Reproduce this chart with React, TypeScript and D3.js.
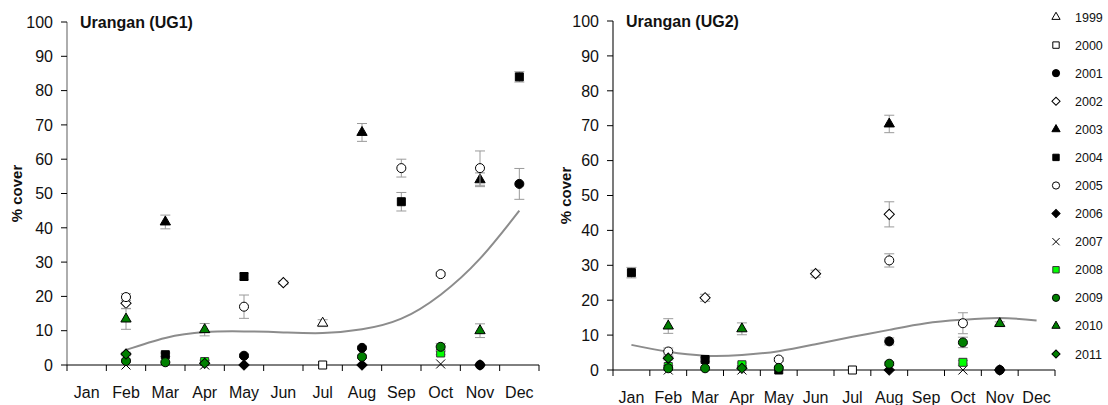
import React from "react";
import * as d3 from "d3";

const months = ["Jan", "Feb", "Mar", "Apr", "May", "Jun", "Jul", "Aug", "Sep", "Oct", "Nov", "Dec"];
const yTicks = [0, 10, 20, 30, 40, 50, 60, 70, 80, 90, 100];
const years = ["1999", "2000", "2001", "2002", "2003", "2004", "2005", "2006", "2007", "2008", "2009", "2010", "2011"];

type Pt = [string, number, number];

// Urangan (UG1): [month, % cover, error]
const ug1_1999: Pt[] = [["Jul", 12.2, 1]];
const ug1_2000: Pt[] = [["Jul", 0, 0]];
const ug1_2001: Pt[] = [["May", 2.7, 0.5], ["Aug", 5, 0.5], ["Nov", 0, 0], ["Dec", 52.8, 4.5]];
const ug1_2002: Pt[] = [["Feb", 18, 1.5], ["Jun", 24, 0.5]];
const ug1_2003: Pt[] = [["Mar", 41.7, 2], ["Aug", 67.8, 2.6], ["Nov", 54, 2]];
const ug1_2004: Pt[] = [["Mar", 3, 0.5], ["May", 25.8, 1], ["Sep", 47.6, 2.7], ["Dec", 84, 1.5]];
const ug1_2005: Pt[] = [["Feb", 19.8, 1], ["May", 17, 3.4], ["Sep", 57.4, 2.6], ["Oct", 26.5, 0.5], ["Nov", 57.4, 5]];
const ug1_2006: Pt[] = [["May", 0, 0], ["Aug", 0, 0], ["Nov", 0, 0]];
const ug1_2007: Pt[] = [["Feb", 0, 0], ["Apr", 0, 0], ["Oct", 0.3, 0]];
const ug1_2008: Pt[] = [["Apr", 1, 0.5], ["Oct", 3.5, 0.5]];
const ug1_2009: Pt[] = [["Feb", 1.2, 0.5], ["Mar", 0.8, 0], ["Aug", 2.4, 0.5], ["Oct", 5.3, 1]];
const ug1_2010: Pt[] = [["Feb", 13.4, 3], ["Apr", 10.3, 1.8], ["Nov", 10, 2]];
const ug1_2011: Pt[] = [["Feb", 3.2, 0.5], ["Apr", 0.5, 0]];

// Urangan (UG2)
const ug2_1999: Pt[] = [];
const ug2_2000: Pt[] = [["Jul", 0, 0]];
const ug2_2001: Pt[] = [["Aug", 8.2, 1], ["Nov", 0, 0]];
const ug2_2002: Pt[] = [["Mar", 20.7, 1], ["Jun", 27.6, 1], ["Aug", 44.6, 3.6]];
const ug2_2003: Pt[] = [["Aug", 70.5, 2.5]];
const ug2_2004: Pt[] = [["Jan", 27.9, 1.5], ["Mar", 3, 0.5], ["May", 0, 0]];
const ug2_2005: Pt[] = [["Feb", 5.3, 1], ["May", 3, 0.5], ["Aug", 31.4, 1.9], ["Oct", 13.4, 3]];
const ug2_2006: Pt[] = [["Aug", 0, 0], ["Nov", 0, 0]];
const ug2_2007: Pt[] = [["Feb", 0, 0], ["Apr", 0, 0], ["Oct", 0, 0]];
const ug2_2008: Pt[] = [["Feb", 1, 0], ["Apr", 1.5, 0.5], ["Oct", 2.2, 0.5]];
const ug2_2009: Pt[] = [["Feb", 0.5, 0], ["Mar", 0.5, 0], ["May", 0.6, 0], ["Aug", 1.8, 0.5], ["Oct", 7.9, 1.5]];
const ug2_2010: Pt[] = [["Feb", 12.6, 2.1], ["Apr", 11.8, 1.7], ["Nov", 13.3, 0.5]];
const ug2_2011: Pt[] = [["Feb", 3.4, 0.5], ["Apr", 0.5, 0]];

const ug1Series = [ug1_1999, ug1_2000, ug1_2001, ug1_2002, ug1_2003, ug1_2004, ug1_2005, ug1_2006, ug1_2007, ug1_2008, ug1_2009, ug1_2010, ug1_2011];
const ug2Series = [ug2_1999, ug2_2000, ug2_2001, ug2_2002, ug2_2003, ug2_2004, ug2_2005, ug2_2006, ug2_2007, ug2_2008, ug2_2009, ug2_2010, ug2_2011];

// Polynomial trend lines
const ug1TrendMonths = ["Feb", "Mar", "Apr", "May", "Jun", "Jul", "Aug", "Sep", "Oct", "Nov", "Dec"];
const ug1TrendValues = [4.4, 7.9, 9.6, 9.8, 9.5, 9.3, 10.4, 13.5, 20.5, 31, 45];
const ug2TrendMonths = months;
const ug2TrendValues = [7.2, 5.2, 4.1, 4.3, 5.4, 7.4, 9.5, 11.5, 13.4, 14.4, 14.9, 14.2];

type Style = { shape: string; fill: string; stroke: string };
const yearStyles: Style[] = [
  { shape: "triangle", fill: "#fff", stroke: "#000" },
  { shape: "square", fill: "#fff", stroke: "#000" },
  { shape: "circle", fill: "#000", stroke: "#000" },
  { shape: "diamond", fill: "#fff", stroke: "#000" },
  { shape: "triangle", fill: "#000", stroke: "#000" },
  { shape: "square", fill: "#000", stroke: "#000" },
  { shape: "circle", fill: "#fff", stroke: "#000" },
  { shape: "diamond", fill: "#000", stroke: "#000" },
  { shape: "x", fill: "none", stroke: "#000" },
  { shape: "square", fill: "#00ff00", stroke: "#333" },
  { shape: "circle", fill: "#008000", stroke: "#000" },
  { shape: "triangle", fill: "#008000", stroke: "#000" },
  { shape: "diamond", fill: "#008000", stroke: "#000" },
];

const FONT = "'Liberation Sans', Arial, sans-serif";

function Marker({ x, y, st, scale = 1 }: { x: number; y: number; st: Style; scale?: number }) {
  const s = scale;
  if (st.shape === "x") {
    const h = 4.5 * s;
    return (
      <path d={`M${-h},${-h}L${h},${h}M${-h},${h}L${h},${-h}`} transform={`translate(${x},${y})`} stroke={st.stroke} strokeWidth={1} fill="none" />
    );
  }
  let d = "";
  let rot = 0;
  if (st.shape === "circle") d = d3.symbol().type(d3.symbolCircle).size(64 * s * s)() as string;
  else if (st.shape === "square") d = d3.symbol().type(d3.symbolSquare).size(64 * s * s)() as string;
  else if (st.shape === "triangle") d = d3.symbol().type(d3.symbolTriangle).size(46 * s * s)() as string;
  else if (st.shape === "diamond") {
    d = d3.symbol().type(d3.symbolSquare).size(52 * s * s)() as string;
    rot = 45;
  }
  return <path d={d} transform={`translate(${x},${y}) rotate(${rot})`} fill={st.fill} stroke={st.stroke} strokeWidth={1} />;
}

type PanelProps = {
  x0: number; x1: number; yTop: number; yBot: number; title: string;
  series: Pt[][]; trendMonths: string[]; trendValues: number[];
  axisColor: string; labelX: number;
};

function Panel(p: PanelProps) {
  const x = d3.scaleBand<string>().domain(months).range([p.x0, p.x1]);
  const y = d3.scaleLinear().domain([0, 100]).range([p.yBot, p.yTop]);
  const cx = (m: string) => (x(m) as number) + x.bandwidth() / 2;
  const line = d3
    .line<number>()
    .x((_, i) => cx(p.trendMonths[i]))
    .y((v) => y(v))
    .curve(d3.curveNatural);
  const boundaries = [...months.map((m) => x(m) as number), p.x1];
  return (
    <g>
      {/* y axis */}
      <line x1={p.x0} x2={p.x0} y1={y(100)} y2={y(0)} stroke={p.axisColor} strokeWidth={1.2} />
      {yTicks.map((t) => (
        <g key={t}>
          <line x1={p.x0 - 6} x2={p.x0} y1={y(t)} y2={y(t)} stroke="#000" strokeWidth={1} />
          <text x={p.x0 - 14} y={y(t)} dy="0.36em" textAnchor="end" fontSize={16} fontFamily={FONT} fill="#111">
            {t}
          </text>
        </g>
      ))}
      {/* x axis */}
      <line x1={p.x0} x2={p.x1} y1={y(0)} y2={y(0)} stroke="#000" strokeWidth={1} />
      {boundaries.map((b, i) => (
        <line key={i} x1={b} x2={b} y1={y(0)} y2={y(0) + 6} stroke="#000" strokeWidth={1} />
      ))}
      {months.map((m) => (
        <text key={m} x={cx(m)} y={y(0) + 33} textAnchor="middle" fontSize={16} fontFamily={FONT} fill="#111">
          {m}
        </text>
      ))}
      <text x={p.x0 + 13} y={y(100) + 6} fontSize={16} fontWeight="bold" fontFamily={FONT} fill="#111">
        {p.title}
      </text>
      <text
        transform={`translate(${p.labelX},${(y(0) + y(100)) / 2}) rotate(-90)`}
        textAnchor="middle"
        fontSize={15}
        fontWeight="bold"
        fontFamily={FONT}
        fill="#111"
      >
        % cover
      </text>
      {/* trend */}
      <path d={line(p.trendValues) as string} fill="none" stroke="#8c8c8c" strokeWidth={2} />
      {/* series */}
      {p.series.map((ser, si) => (
        <g key={si}>
          {ser.map(([m, v, e], k) =>
            e > 0 ? (
              <g key={k} stroke="#9a9a9a" strokeWidth={1}>
                <line x1={cx(m)} x2={cx(m)} y1={y(v - e)} y2={y(v + e)} />
                <line x1={cx(m) - 5} x2={cx(m) + 5} y1={y(v + e)} y2={y(v + e)} />
                <line x1={cx(m) - 5} x2={cx(m) + 5} y1={y(v - e)} y2={y(v - e)} />
              </g>
            ) : null
          )}
          {ser.map(([m, v], k) => (
            <Marker key={"m" + k} x={cx(m)} y={y(v)} st={yearStyles[si]} />
          ))}
        </g>
      ))}
    </g>
  );
}

export default function App() {
  const legendY = d3.scalePoint<string>().domain(years).range([17, 354]);
  return (
    <svg width={1108} height={405} style={{ position: "absolute", left: 0, top: 0, background: "#fff" }}>
      <rect width={1108} height={405} fill="#fff" />
      <Panel x0={67} x1={539} yTop={22} yBot={365} title="Urangan (UG1)" series={ug1Series}
        trendMonths={ug1TrendMonths} trendValues={ug1TrendValues} axisColor="#777" labelX={22} />
      <Panel x0={613} x1={1055} yTop={21} yBot={370} title="Urangan (UG2)" series={ug2Series}
        trendMonths={ug2TrendMonths} trendValues={ug2TrendValues} axisColor="#222" labelX={571} />
      {years.map((yr, i) => (
        <g key={yr}>
          <Marker x={1056} y={legendY(yr) as number} st={yearStyles[i]} scale={0.8} />
          <text x={1075} y={legendY(yr) as number} dy="0.36em" fontSize={12.5} fontFamily={FONT} fill="#111">
            {yr}
          </text>
        </g>
      ))}
    </svg>
  );
}
